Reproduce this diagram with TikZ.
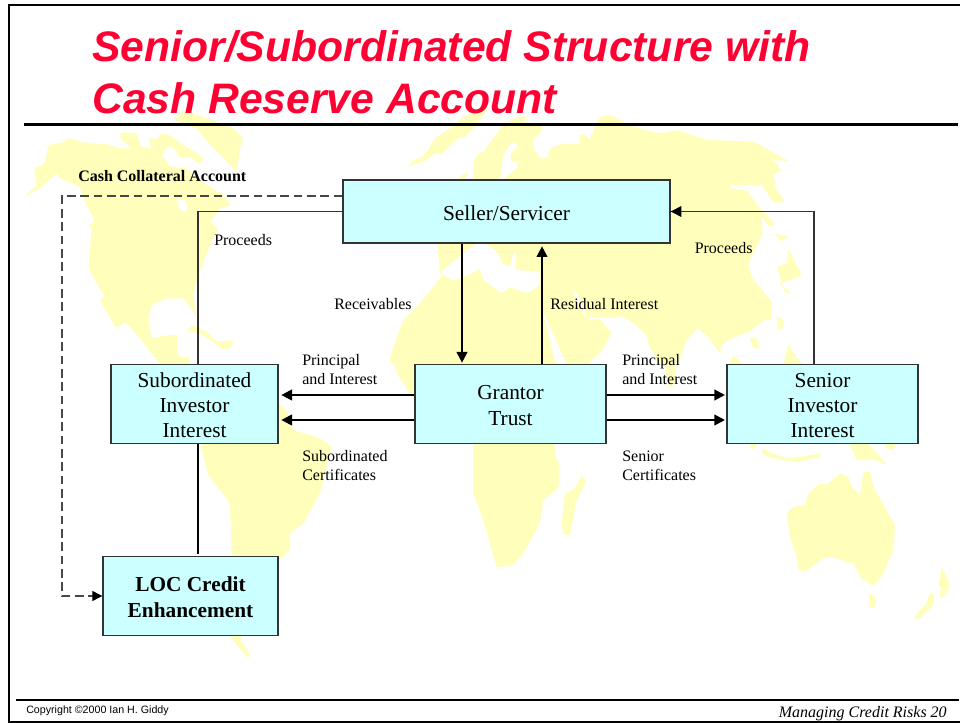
\documentclass[tikz,border=0pt]{standalone}
\usepackage{fontspec}
\setmainfont{Liberation Serif}
\setsansfont{Liberation Sans}
\usetikzlibrary{arrows.meta}
\definecolor{mapyellow}{HTML}{FFFFBB}
\definecolor{boxcyan}{HTML}{CCFFFF}
\definecolor{titlered}{HTML}{FF0033}
\definecolor{edgegray}{HTML}{333333}
\newcommand{\landpoly}[1]{\fill[mapyellow,rounded corners=1.2pt] #1 -- cycle;}
\newcommand{\seapoly}[1]{\fill[white,rounded corners=1.2pt] #1 -- cycle;}
\newcommand{\boxstrut}{\rule{0pt}{13pt}}
\tikzset{
  zoomat/.style 2 args={shift={(#1*0.75pt,-#2*0.75pt)},x=0.25pt,y=-0.25pt},
  flowbox/.style={draw=edgegray,line width=1pt,fill=boxcyan,inner sep=0pt,align=center,font=\fontsize{16}{19}\selectfont,anchor=center},
  lbl/.style={anchor=base west,inner sep=0pt,yshift=-0.6pt,font=\fontsize{12}{14.2}\selectfont},
  titletext/.style={anchor=base west,inner sep=0pt,text=titlered,font=\fontsize{32}{39}\sffamily\bfseries\itshape\selectfont},
  thick flow/.style={line width=1.5pt,-{Triangle[length=8pt,width=8pt]}},
  thin flow/.style={line width=0.8pt,draw=edgegray},
  dash flow/.style={line width=0.8pt,draw=edgegray!90,dash pattern=on 6.5pt off 3.5pt},
}
\begin{document}
\begin{tikzpicture}[x=0.75pt,y=-0.75pt]
\useasboundingbox (0,0) rectangle (960,723);
\fill[white] (0,0) rectangle (960,723);
% ---------- world map ----------
\begin{scope}[zoomat={20}{105}]
\landpoly{(10,278)--(50,240)--(42,190)--(75,175)--(85,120)--(130,112)--(150,98)--(185,112)--(260,118)--(300,130)--(335,130)--(300,100)--(302,82)--(350,85)--(362,125)--(395,130)--(385,100)--(420,100)--(415,85)--(450,90)--(480,115)--(500,125)--(530,145)--(550,155)--(540,180)--(510,155)--(480,160)--(465,130)--(440,125)--(425,150)--(450,185)--(500,190)--(560,240)--(610,270)--(635,300)--(600,310)--(570,350)--(595,370)--(570,420)--(535,510)--(520,570)--(530,640)--(515,610)--(490,580)--(440,580)--(395,600)--(385,640)--(395,700)--(445,690)--(475,690)--(470,740)--(500,790)--(430,790)--(360,700)--(315,650)--(290,670)--(240,590)--(255,570)--(300,640)--(250,570)--(205,490)--(215,370)--(205,360)--(225,350)--(190,280)--(180,245)--(120,220)--(110,205)--(60,250)}
\seapoly{(470,285)--(490,280)--(505,310)--(490,322)--(475,305)}
\landpoly{(460,45)--(490,15)--(560,40)--(640,70)--(670,100)--(660,130)--(650,200)--(630,180)--(570,120)--(530,70)}
\landpoly{(500,675)--(520,660)--(560,680)--(590,710)--(640,705)--(635,725)--(610,735)--(590,720)--(550,690)--(515,680)}
\end{scope}
\begin{scope}[zoomat={0}{360}]
\landpoly{(490,-10)--(570,-10)--(570,100)--(830,100)--(835,130)--(860,150)--(880,210)--(960,235)--(995,260)--(960,400)--(910,490)--(870,520)--(870,570)--(840,600)--(720,840)--(750,880)--(745,895)--(690,830)--(695,590)--(690,430)--(625,345)--(600,250)--(590,100)}
\end{scope}
\begin{scope}[zoomat={400}{105}]
\landpoly{(220,240)--(220,170)--(235,145)--(255,140)--(260,125)--(300,75)--(305,60)--(355,35)--(385,35)--(370,50)--(430,65)--(420,85)--(400,100)--(400,125)--(420,160)--(440,160)--(450,130)--(490,115)--(540,118)--(540,88)--(555,88)--(568,105)--(600,35)--(630,30)--(670,50)--(720,72)--(780,85)--(830,75)--(920,105)--(1060,110)--(1170,170)--(1110,160)--(1135,180)--(1115,205)--(1130,240)}
\seapoly{(305,225)--(350,190)--(355,165)--(335,175)--(330,150)--(355,120)--(335,112)--(310,150)--(300,225)}
\landpoly{(172,218)--(205,200)--(195,224)}
\landpoly{(20,195)--(40,165)--(70,155)--(105,100)--(150,70)--(200,30)--(265,10)--(215,75)--(190,100)--(175,100)--(150,120)--(130,145)--(105,145)--(70,170)--(35,180)}
\end{scope}
\begin{scope}[zoomat={480}{0}]
\landpoly{(560,500)--(720,460)--(930,485)--(875,480)--(905,510)--(870,530)--(890,570)--(915,605)--(880,608)--(850,560)--(820,520)--(770,530)--(750,550)--(750,565)--(800,570)--(835,620)--(880,665)--(885,675)--(870,682)--(845,650)--(848,700)--(805,790)--(815,835)--(875,905)--(875,960)--(560,960)}
\landpoly{(880,700)--(925,710)--(905,725)}
\landpoly{(925,745)--(965,825)--(935,840)--(895,850)--(935,880)--(915,880)--(890,800)--(920,790)}
\landpoly{(890,950)--(908,955)--(910,985)--(895,990)}
\landpoly{(815,1010)--(830,1015)--(840,1045)--(818,1042)}
\end{scope}
\begin{scope}[zoomat={400}{240}]
\landpoly{(110,-5)--(1050,-5)--(1045,100)--(1115,185)--(1115,225)--(1060,265)--(1040,300)--(1020,372)--(-30,372)--(-30,350)--(10,240)--(50,200)--(85,160)--(125,108)--(120,98)}
\seapoly{(120,98)--(160,122)--(215,100)--(240,85)--(250,120)--(305,160)--(330,140)--(380,160)--(420,135)--(420,95)--(345,90)--(350,40)--(340,40)--(330,80)--(305,70)--(300,50)--(280,25)--(255,12)--(225,12)--(165,60)}
\seapoly{(428,215)--(468,372)--(500,372)}
\seapoly{(515,145)--(540,175)--(560,235)--(600,232)--(630,235)--(665,228)--(700,250)--(740,285)--(745,315)--(780,375)--(560,375)--(605,335)--(635,280)--(600,235)--(570,240)--(550,225)}
\seapoly{(835,375)--(860,300)--(895,265)--(930,300)--(960,340)--(985,375)}
\seapoly{(985,375)--(960,340)--(965,320)--(985,300)--(1060,270)--(1045,300)--(1020,375)}
\landpoly{(1050,290)--(1080,325)--(1060,325)}
\landpoly{(1165,310)--(1180,340)--(1210,375)--(1150,375)}
\landpoly{(985,375)--(1000,345)--(1030,375)}
\end{scope}
\begin{scope}[zoomat={0}{360}]
\landpoly{(1180,0)--(1190,40)--(1250,130)--(1250,0)}
\end{scope}
\begin{scope}[zoomat={480}{360}]
\landpoly{(-21,250)--(225,250)--(225,285)--(240,320)--(235,385)--(190,420)--(180,490)--(130,580)--(100,615)--(50,622)--(35,570)--(10,480)--(-21,400)}
\landpoly{(555,0)--(590,0)--(585,70)--(570,85)--(560,60)}
\landpoly{(730,100)--(745,100)--(745,135)}
\landpoly{(305,345)--(320,365)--(290,420)--(270,525)--(250,525)--(245,490)--(255,400)--(285,385)}
\landpoly{(920,460)--(940,440)--(975,435)--(985,400)--(1020,370)--(1040,375)--(1080,340)--(1105,350)--(1115,380)--(1140,405)--(1150,335)--(1170,335)--(1180,380)--(1245,495)--(1240,570)--(1210,640)--(1180,680)--(1140,650)--(1120,610)--(1095,605)--(1060,590)--(1030,595)--(975,635)--(955,630)--(950,590)--(930,530)}
\landpoly{(1165,700)--(1190,710)--(1185,745)--(1170,745)}
\landpoly{(1385,620)--(1395,640)--(1410,675)--(1390,715)--(1378,710)--(1385,680)--(1375,680)}
\landpoly{(1350,695)--(1365,710)--(1360,735)--(1320,775)--(1298,775)--(1340,730)}
\landpoly{(845,265)--(880,280)--(920,295)--(960,290)--(1025,280)--(1020,290)--(960,305)--(900,300)--(850,285)}
\landpoly{(810,245)--(830,245)--(825,268)--(812,265)}
\landpoly{(1105,245)--(1160,245)--(1190,280)--(1220,310)--(1215,316)--(1190,300)--(1130,300)}
\landpoly{(1215,245)--(1250,245)--(1240,270)--(1220,268)}
\end{scope}
% ---------- frame ----------
\draw[line width=1.5pt] (960,5.5) -- (8.5,5.5) -- (8.5,721.5) -- (960,721.5);
\draw[line width=2.2pt] (24,124.5) -- (958,124.5);
\draw[line width=1.5pt] (16,700) -- (959,700);
% ---------- title ----------
\node[titletext] (t1) at (92,62) {Senior/Subordinated Structure with};
\node[titletext] (t2) at (92,114) {Cash Reserve Account};
% ---------- boxes ----------
\node[flowbox,minimum width=245.25pt,minimum height=47.25pt] (seller) at (506.5,211.5) {\boxstrut Seller/Servicer};
\node[flowbox,minimum width=125.25pt,minimum height=59pt] (sub) at (194.5,404) {\boxstrut Subordinated\\Investor\\Interest};
\node[flowbox,minimum width=143.25pt,minimum height=59pt] (grantor) at (510.5,404) {\boxstrut Grantor\\Trust};
\node[flowbox,minimum width=143.25pt,minimum height=59pt] (senior) at (822.5,404) {\boxstrut Senior\\Investor\\Interest};
\node[flowbox,minimum width=131.25pt,minimum height=59pt,font=\fontsize{16}{19}\bfseries\selectfont] (loc) at (190.5,596) {\boxstrut LOC Credit\\Enhancement};
% ---------- guide coordinates ----------
\coordinate (gx1) at (198,0);
\coordinate (gx2) at (462,0);
\coordinate (gx3) at (542,0);
\coordinate (gx4) at (814,0);
\coordinate (gx5) at (62,0);
\coordinate (gy1) at (0,395);
\coordinate (gy2) at (0,420);
\coordinate (gy3) at (0,196);
% ---------- connectors ----------
\draw[thin flow] (seller.west) -- (seller.west -| gx1) -- (sub.north -| gx1);
\draw[thin flow,-{Triangle[length=8pt,width=8pt,color=black]}] (senior.north -| gx4) -- (seller.east -| gx4) -- (seller.east);
\draw[dash flow,-{Triangle[length=7.5pt,width=7.5pt,color=black]}] (seller.west |- gy3) -- (gx5 |- gy3) -- (gx5 |- loc.west) -- (loc.west);
\draw[line width=1.5pt,shorten >=1.5pt] (sub.south -| gx1) -- (loc.north -| gx1);
\draw[thick flow,shorten >=1pt] (seller.south -| gx2) -- (grantor.north -| gx2);
\draw[thick flow,shorten >=2pt] (grantor.north -| gx3) -- (seller.south -| gx3);
\draw[thick flow,shorten >=2pt] (grantor.west |- gy1) -- (sub.east |- gy1);
\draw[thick flow,shorten >=2pt] (grantor.west |- gy2) -- (sub.east |- gy2);
\draw[thick flow,shorten >=1pt] (grantor.east |- gy1) -- (senior.west |- gy1);
\draw[thick flow,shorten >=1pt] (grantor.east |- gy2) -- (senior.west |- gy2);
% ---------- labels ----------
\node[lbl,font=\fontsize{12}{14.2}\bfseries\selectfont] (l1) at (78,181) {Cash Collateral Account};
\node[lbl] (l2) at (214,245) {Proceeds};
\node[lbl] (l3) at (694.5,253) {Proceeds};
\node[lbl] (l4) at (334,309) {Receivables};
\node[lbl] (l5) at (550,309) {Residual Interest};
\node[lbl] (l6) at (302,365) {Principal};
\node[lbl] (l7) at (302,384) {and Interest};
\node[lbl] (l8) at (622,365) {Principal};
\node[lbl] (l9) at (622,384) {and Interest};
\node[lbl] (l10) at (302,461) {Subordinated};
\node[lbl] (l11) at (302,480) {Certificates};
\node[lbl] (l12) at (622,461) {Senior};
\node[lbl] (l13) at (622,480) {Certificates};
% ---------- footer ----------
\node[anchor=base west,inner sep=0pt,font=\fontsize{8}{10}\sffamily\selectfont] (f1) at (26,713) {Copyright ©2000 Ian H. Giddy};
\node[anchor=base east,inner sep=0pt,font=\fontsize{12}{14}\itshape\selectfont] (f2) at (947,717) {Managing Credit Risks 20};
\end{tikzpicture}
\end{document}
